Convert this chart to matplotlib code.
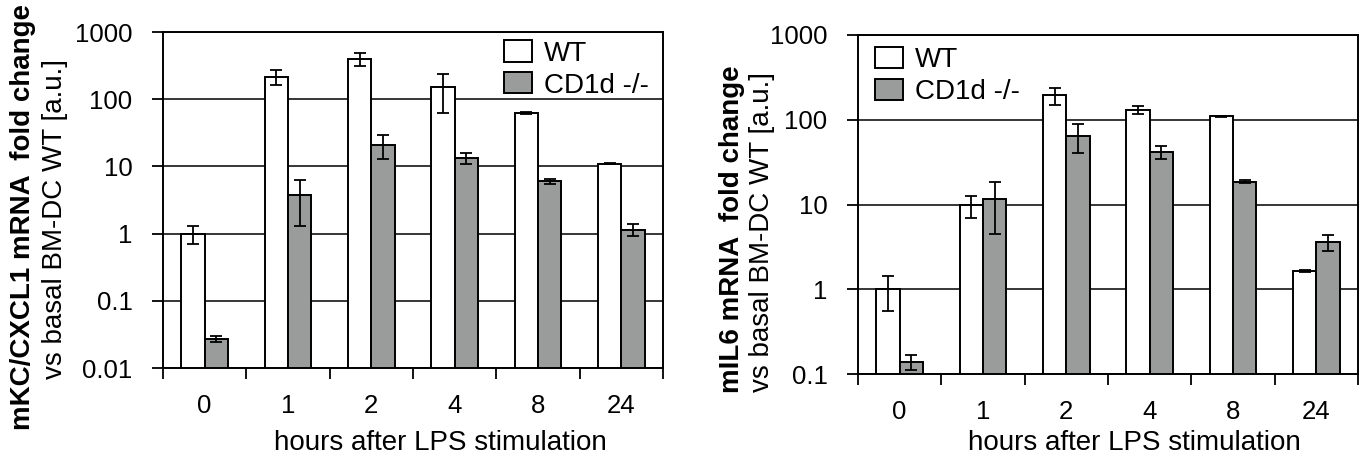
import matplotlib
matplotlib.use("Agg")
import matplotlib.pyplot as plt
import numpy as np

plt.rcParams['font.family'] = ['Liberation Sans', 'DejaVu Sans']

hours = ["0", "1", "2", "4", "8", "24"]

# Left panel: mKC/CXCL1
kc_wt = [1.0, 215, 400, 150, 62, 11]
kc_wt_err = [0.3, 55, 85, 87, 2, 0.3]
kc_ko = [0.027, 3.8, 21, 13.5, 6.0, 1.15]
kc_ko_err = [0.003, 2.5, 8, 2.5, 0.5, 0.23]

# Right panel: mIL6
il6_wt = [1.0, 9.8, 195, 130, 110, 1.64]
il6_wt_err = [0.45, 2.8, 45, 14, 2, 0.03]
il6_ko = [0.14, 11.5, 65, 42, 18.6, 3.6]
il6_ko_err = [0.028, 7, 24, 7.5, 0.8, 0.8]

left_yticks = [0.01, 0.1, 1, 10, 100, 1000]
left_ylabels = ["0.01", "0.1", "1", "10", "100", "1000"]
right_yticks = [0.1, 1, 10, 100, 1000]
right_ylabels = ["0.1", "1", "10", "100", "1000"]

series_names = ["WT", "CD1d -/-"]
GRAY = "#9a9c9c"

fig = plt.figure(figsize=(13.68, 4.59), dpi=100)
axL = fig.add_axes([163/1368, 1-368/459, 500/1368, 336/459])
axR = fig.add_axes([858/1368, 1-374/459, 500/1368, 339/459])

def draw(ax, wt, wte, ko, koe, yticks, ylabels, legend_anchor):
    ax.set_yscale('log')
    x = np.arange(len(hours))
    w = 0.28
    ekw = dict(ecolor='black', elinewidth=1.3, capsize=4.5, capthick=1.3)
    ax.bar(x - w/2, wt, w, color='white', edgecolor='black', linewidth=1.4,
           yerr=wte, error_kw=ekw, label=series_names[0], zorder=2)
    ax.bar(x + w/2, ko, w, color=GRAY, edgecolor='black', linewidth=1.4,
           yerr=koe, error_kw=ekw, label=series_names[1], zorder=2)
    ax.set_ylim(yticks[0], yticks[-1])
    ax.set_xlim(-0.5, len(hours)-0.5)
    ax.set_yticks(yticks)
    ax.set_yticklabels(ylabels)
    ax.yaxis.set_minor_locator(matplotlib.ticker.NullLocator())
    ax.set_xticks(np.arange(len(hours)+1) - 0.5)
    ax.set_xticklabels([])
    ax.set_xticks(x, minor=True)
    ax.set_xticklabels(hours, minor=True)
    ax.tick_params(axis='x', which='major', direction='out', length=8, width=1.3)
    ax.tick_params(axis='x', which='minor', length=0, pad=19, labelsize=18.5)
    ax.tick_params(axis='y', which='major', direction='out', length=8, width=1.3, pad=14, labelsize=18.5)
    ax.grid(True, axis='y', which='major', color='black', linewidth=1.1)
    ax.set_axisbelow(True)
    for s in ax.spines.values():
        s.set_linewidth(1.4)
    leg = ax.legend(loc='upper left', bbox_to_anchor=legend_anchor, frameon=False,
                    fontsize=20, handlelength=1.0, handleheight=0.8, handletextpad=0.45,
                    labelspacing=0.2, borderpad=0, borderaxespad=0)
    return leg

draw(axL, kc_wt, kc_wt_err, kc_ko, kc_ko_err, left_yticks, left_ylabels, (0.682, 0.975))
draw(axR, il6_wt, il6_wt_err, il6_ko, il6_ko_err, right_yticks, right_ylabels, (0.034, 0.965))

fig.text(23/1368, 1-217/459, "mKC/CXCL1 mRNA  fold change", rotation=90, fontsize=20,
         fontweight='bold', ha='center', va='center')
fig.text(55/1368, 1-219/459, "vs basal BM-DC WT [a.u.]", rotation=90, fontsize=20,
         ha='center', va='center')
fig.text(732/1368, 1-229/459, "mIL6 mRNA  fold change", rotation=90, fontsize=20,
         fontweight='bold', ha='center', va='center')
fig.text(762/1368, 1-232/459, "vs basal BM-DC WT [a.u.]", rotation=90, fontsize=20,
         ha='center', va='center')
fig.text(440/1368, 1-443/459, "hours after LPS stimulation", fontsize=20, ha='center', va='center')
fig.text(1134/1368, 1-443/459, "hours after LPS stimulation", fontsize=20, ha='center', va='center')

fig.savefig("out.png", dpi=100)
